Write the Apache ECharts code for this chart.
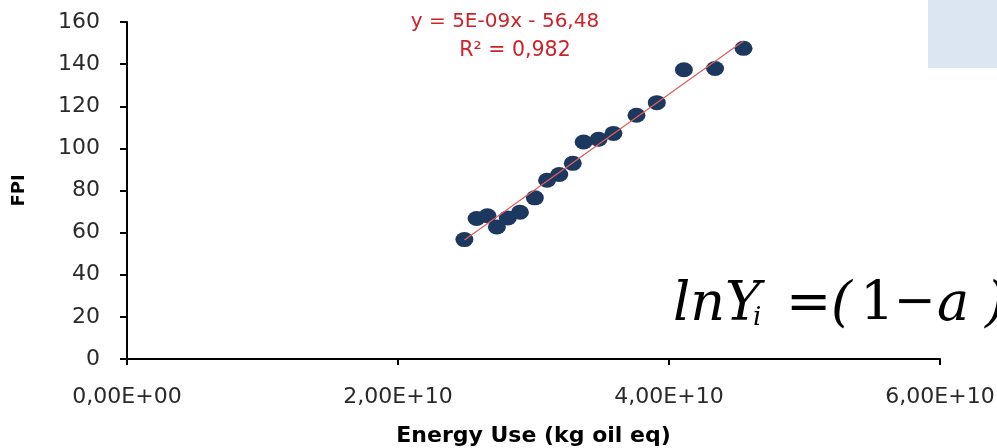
<!DOCTYPE html>
<html>
<head>
<meta charset="utf-8">
<script src="https://cdn.jsdelivr.net/npm/echarts@6/dist/echarts.min.js"></script>
<style>html,body{margin:0;padding:0;background:#fff;}#c{width:997px;height:448px;}</style>
</head>
<body>
<div id="c"></div>
<script>
// Data
const energyUse = [2.49e10, 2.58e10, 2.66e10, 2.73e10, 2.81e10, 2.90e10, 3.01e10, 3.10e10, 3.19e10, 3.29e10, 3.37e10, 3.48e10, 3.59e10, 3.76e10, 3.91e10, 4.11e10, 4.34e10, 4.55e10];
const fpi = [56.7, 66.7, 68.0, 62.7, 67.0, 69.7, 76.5, 84.9, 87.6, 92.9, 103.0, 104.3, 107.1, 115.7, 121.7, 137.3, 137.9, 147.5];
const xTickLabels = ['0,00E+00', '2,00E+10', '4,00E+10', '6,00E+10'];
const yTickLabels = ['0', '20', '40', '60', '80', '100', '120', '140', '160'];
const trendEquation = 'y = 5E-09x - 56,48';
const trendR2 = 'R² = 0,982';

// linear least squares trendline (as the spreadsheet does)
const n = energyUse.length;
const mx = energyUse.reduce((a, b) => a + b, 0) / n;
const my = fpi.reduce((a, b) => a + b, 0) / n;
let sxy = 0, sxx = 0;
for (let i = 0; i < n; i++) { sxy += (energyUse[i] - mx) * (fpi[i] - my); sxx += (energyUse[i] - mx) ** 2; }
const slope = sxy / sxx, intercept = my - slope * mx;
const xMin = Math.min(...energyUse), xMax = Math.max(...energyUse);
const trend = [[xMin, slope * xMin + intercept], [xMax, slope * xMax + intercept]];

const chart = echarts.init(document.getElementById('c'), null, { renderer: 'canvas' });
const tickFont = { fontFamily: 'DejaVu Sans', fontSize: 22, color: '#2a2a2a' };
const mathText = (t, x, y, size, italic) => ({
  type: 'text', x: x, y: y,
  style: { text: t, fontFamily: 'DejaVu Serif', fontStyle: italic ? 'italic' : 'normal', fontSize: size, fill: '#000', align: 'left', verticalAlign: 'top' }
});
chart.setOption({
  animation: false,
  backgroundColor: '#ffffff',
  grid: { left: 127, right: 57, top: 22, bottom: 89, containLabel: false, outerBoundsMode: 'none' },
  xAxis: {
    type: 'value', min: 0, max: 6e10, interval: 2e10,
    name: 'Energy Use (kg oil eq)', nameLocation: 'middle', nameGap: 66,
    nameTextStyle: { fontFamily: 'DejaVu Sans', fontWeight: 'bold', fontSize: 22, color: '#000' },
    axisLine: { show: true, onZero: false, lineStyle: { color: '#000', width: 2 } },
    axisTick: { show: true, length: 6, lineStyle: { color: '#000', width: 2 } },
    splitLine: { show: false },
    axisLabel: Object.assign({ margin: 27, formatter: v => xTickLabels[Math.round(v / 2e10)] }, tickFont)
  },
  yAxis: {
    type: 'value', min: 0, max: 160, interval: 20,
    name: 'FPI', nameLocation: 'middle', nameGap: 99, nameRotate: 90,
    nameTextStyle: { fontFamily: 'DejaVu Sans', fontWeight: 'bold', fontSize: 18, color: '#000' },
    axisLine: { show: true, onZero: false, lineStyle: { color: '#000', width: 2 } },
    axisTick: { show: true, length: 7, lineStyle: { color: '#000', width: 2 } },
    splitLine: { show: false },
    axisLabel: Object.assign({ margin: 27, formatter: v => yTickLabels[Math.round(v / 20)] }, tickFont)
  },
  series: [
    {
      type: 'line', data: trend, symbol: 'none', z: 3,
      lineStyle: { color: '#E0605F', width: 1.3 }
    },
    {
      type: 'scatter', data: energyUse.map((x, i) => [x, fpi[i]]),
      symbol: 'circle', symbolSize: [18, 15], z: 2,
      itemStyle: { color: '#1C385E', opacity: 1 }
    }
  ],
  graphic: [
    { type: 'rect', left: 928, top: 0, shape: { width: 69, height: 68 }, style: { fill: '#DCE6F2' } },
    { type: 'text', x: 505, y: 22, style: { text: trendEquation, fontFamily: 'DejaVu Sans', fontSize: 20, fill: '#CC2229', align: 'center', verticalAlign: 'middle' } },
    { type: 'text', x: 515, y: 51, style: { text: trendR2, fontFamily: 'DejaVu Sans', fontSize: 20.5, fill: '#CC2229', align: 'center', verticalAlign: 'middle' } },
    mathText('lnY', 673, 279, 54, true),
    mathText('i', 753, 305, 26, true),
    mathText('=', 786, 279, 54, false),
    mathText('(', 831, 279, 54, true),
    mathText('1', 860, 279, 54, false),
    mathText('−', 894, 279, 50, false),
    mathText('a', 937, 279, 54, true),
    mathText(')', 985, 279, 54, true)
  ]
});
</script>
</body>
</html>
